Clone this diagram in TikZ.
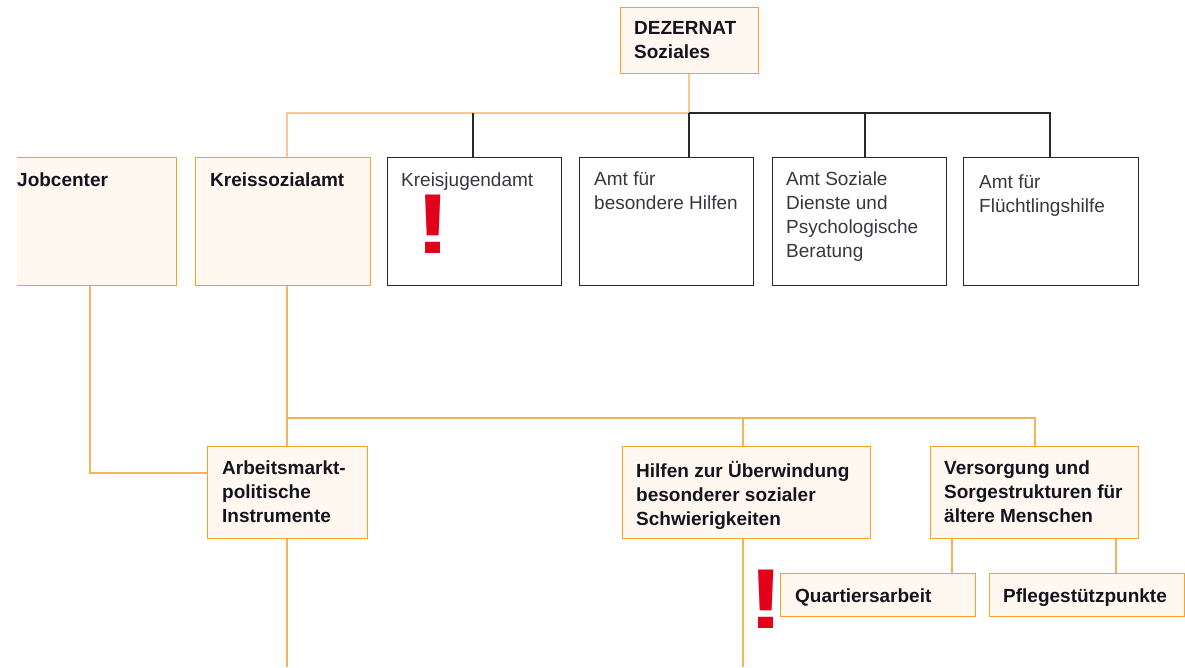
\documentclass[tikz,border=0pt]{standalone}
\usepackage{fontspec}
\setmainfont{Liberation Sans}
\definecolor{obord}{RGB}{244,163,40}
\definecolor{ofill}{RGB}{255,248,240}
\definecolor{oline}{RGB}{246,180,88}
\definecolor{olight}{RGB}{250,200,150}
\definecolor{exred}{RGB}{226,0,26}
\definecolor{txt}{RGB}{20,20,30}
\definecolor{kline}{RGB}{40,40,40}
\begin{document}
\begin{tikzpicture}[x=1pt,y=-1pt,
  obox/.style={draw=obord,fill=ofill,line width=1.3pt,inner sep=0pt,anchor=north west},
  kbox/.style={draw=kline,fill=white,line width=1.1pt,inner sep=0pt,anchor=north west},
  btext/.style={font=\fontsize{19}{24}\selectfont\bfseries,text=txt,anchor=north west,inner sep=0pt,align=left,execute at begin node={\rule{0pt}{14pt}}},
  rtext/.style={font=\fontsize{19}{24}\selectfont,text=txt!85,anchor=north west,inner sep=0pt,align=left,execute at begin node={\rule{0pt}{14pt}}},
  exmark/.style={font=\fontsize{85}{85}\selectfont\bfseries,text=exred,anchor=base,inner sep=0pt,xscale=1.25},
  lineL/.style={draw=olight,line width=1.6pt},
  lineO/.style={draw=oline,line width=1.3pt},
  lineK/.style={draw=kline,line width=1.1pt}
]
\clip (0,0) rectangle (1185,667);

% coordinates for junctions
\coordinate (jt) at (689,113);
\coordinate (jk) at (287,113);
\coordinate (je) at (1050,113);
\coordinate (ja) at (865,113);
\coordinate (jm) at (287,418);
\coordinate (jh) at (743,418);
\coordinate (jv) at (1035,418);
\coordinate (jj) at (90,473);
\coordinate (bk) at (287,667);
\coordinate (bh) at (743,667);

% connectors (drawn first, under boxes)
\draw[lineL] (689,73) -- (jt) -- (jk) -- (287,157);
\draw[lineK] (jt) -- (je) -- (1050,157);
\draw[lineK] (jt) -- (689,157);
\draw[lineK] (473,113) -- (473,157);
\draw[lineK] (ja) -- (865,157);
\draw[lineO] (287,285) -- (bk);
\draw[lineO] (jm) -- (jv) -- (1035,446);
\draw[lineO] (jh) -- (bh);
\draw[lineO] (90,285) -- (jj) -- (207,473);
\draw[lineO] (952,538) -- (952,573);
\draw[lineO] (1116,538) -- (1116,573);

% boxes
\node[obox,minimum width=138pt,minimum height=66pt] (dez) at (620,7) {};
\node[btext] (dezt) at (634,21) {DEZERNAT\\Soziales};

\begin{scope}
\clip (17,0) rectangle (400,400);
\node[obox,minimum width=174pt,minimum height=128pt] (job) at (2,157) {};
\end{scope}
\node[btext] (jobt) at (17,172) {Jobcenter};

\node[obox,minimum width=175pt,minimum height=128pt] (ksa) at (195,157) {};
\node[btext] (ksat) at (210,172) {Kreissozialamt};

\node[kbox,minimum width=174pt,minimum height=128pt] (kja) at (387,157) {};
\node[rtext] (kjat) at (401,172) {Kreisjugendamt};

\node[kbox,minimum width=174pt,minimum height=128pt] (abh) at (579,157) {};
\node[rtext] (abht) at (594,172) {Amt für\\besondere Hilfen};

\node[kbox,minimum width=174pt,minimum height=128pt] (asd) at (772,157) {};
\node[rtext] (asdt) at (786,172) {Amt Soziale\\Dienste und\\Psychologische\\Beratung};

\node[kbox,minimum width=175pt,minimum height=128pt] (afh) at (963,157) {};
\node[rtext] (afht) at (979,175) {Amt für\\Flüchtlingshilfe};

\node[obox,minimum width=160pt,minimum height=92pt] (ami) at (207,446) {};
\node[btext] (amit) at (222,461) {Arbeitsmarkt-\\politische\\Instrumente};

\node[obox,minimum width=248pt,minimum height=92pt] (hub) at (622,446) {};
\node[btext] (hubt) at (636,461) {Hilfen zur Überwindung\\besonderer sozialer\\Schwierigkeiten};

\node[obox,minimum width=208pt,minimum height=92pt] (vsa) at (930,446) {};
\node[btext] (vsat) at (944,461) {Versorgung und\\Sorgestrukturen für\\ältere Menschen};

\node[obox,minimum width=195pt,minimum height=43pt] (qua) at (780,573) {};
\node[btext] (quat) at (795,588) {Quartiersarbeit};

\node[obox,minimum width=195pt,minimum height=43pt] (pfl) at (989,573) {};
\node[btext] (pflt) at (1003,588) {Pflegestützpunkte};

% exclamation marks
\node[exmark] (ex1) at (433.5,253) {!};
\node[exmark] (ex2) at (766,628) {!};
\end{tikzpicture}
\end{document}
